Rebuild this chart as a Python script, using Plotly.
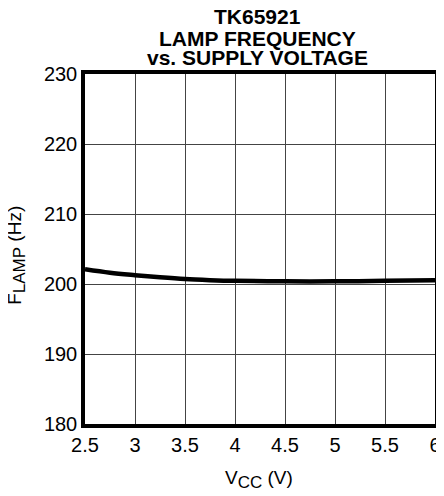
import plotly.graph_objects as go

vcc = [2.5, 2.75, 3.0, 3.25, 3.5, 3.75, 4.0, 4.5, 5.0, 5.5, 6.0]
flamp = [202.1, 201.6, 201.25, 200.95, 200.7, 200.55, 200.45, 200.38, 200.38, 200.45, 200.55]

x_ticks = [2.5, 3, 3.5, 4, 4.5, 5, 5.5, 6]
x_labels = ["2.5", "3", "3.5", "4", "4.5", "5", "5.5", "6"]
y_ticks = [180, 190, 200, 210, 220, 230]
title_lines = ["TK65921", "LAMP FREQUENCY", "vs. SUPPLY VOLTAGE"]

W, H = 444, 496
OFF = 8  # page body margin
L, R, T, B = 77, 16.5, 66, 79.5
PW, PH = W - L - R, H - T - B


def px_x(px):
    return (px - OFF - L) / PW


def px_y(py):
    return (H - B - (py - OFF)) / PH


font = "Liberation Sans, Arial, Helvetica, sans-serif"

fig = go.Figure()
fig.add_trace(go.Scatter(x=vcc, y=flamp, mode="lines",
                         line=dict(color="black", width=4.5, shape="spline"),
                         showlegend=False, hoverinfo="skip"))

annotations = []
for text, py in zip(title_lines, [16.5, 38.0, 57.8]):
    annotations.append(dict(text="<b>%s</b>" % text, x=px_x(258), y=px_y(py),
                            xref="paper", yref="paper", showarrow=False,
                            xanchor="center", yanchor="middle",
                            font=dict(size=21, family=font, color="black")))
annotations.append(dict(text="V<sub><span style='font-size:17px'>CC</span></sub> (V)",
                        x=px_x(259), y=px_y(480),
                        xref="paper", yref="paper", showarrow=False,
                        xanchor="center", yanchor="middle",
                        font=dict(size=19, family=font, color="black")))
annotations.append(dict(text="F<sub><span style='font-size:17px'>LAMP</span></sub> (Hz)",
                        x=px_x(17), y=px_y(256),
                        xref="paper", yref="paper", showarrow=False,
                        textangle=-90, xanchor="center", yanchor="middle",
                        font=dict(size=19, family=font, color="black")))

fig.update_layout(
    width=W, height=H,
    margin=dict(l=L, r=R, t=T, b=B, autoexpand=False),
    paper_bgcolor="white", plot_bgcolor="white",
    font=dict(family=font, size=20, color="black"),
    annotations=annotations,
    xaxis=dict(range=[2.5, 6], tickvals=x_ticks, ticktext=x_labels,
               showgrid=True, gridcolor="#444", gridwidth=1,
               showline=True, linecolor="black", linewidth=3.5, mirror=True,
               ticks="", zeroline=False, automargin=False,
               tickfont=dict(size=20)),
    yaxis=dict(range=[180, 230], tickvals=y_ticks,
               showgrid=True, gridcolor="#444", gridwidth=1,
               showline=True, linecolor="black", linewidth=3.5, mirror=True,
               ticks="", zeroline=False, automargin=False,
               tickfont=dict(size=20)),
)
fig.write_html("out.html")
